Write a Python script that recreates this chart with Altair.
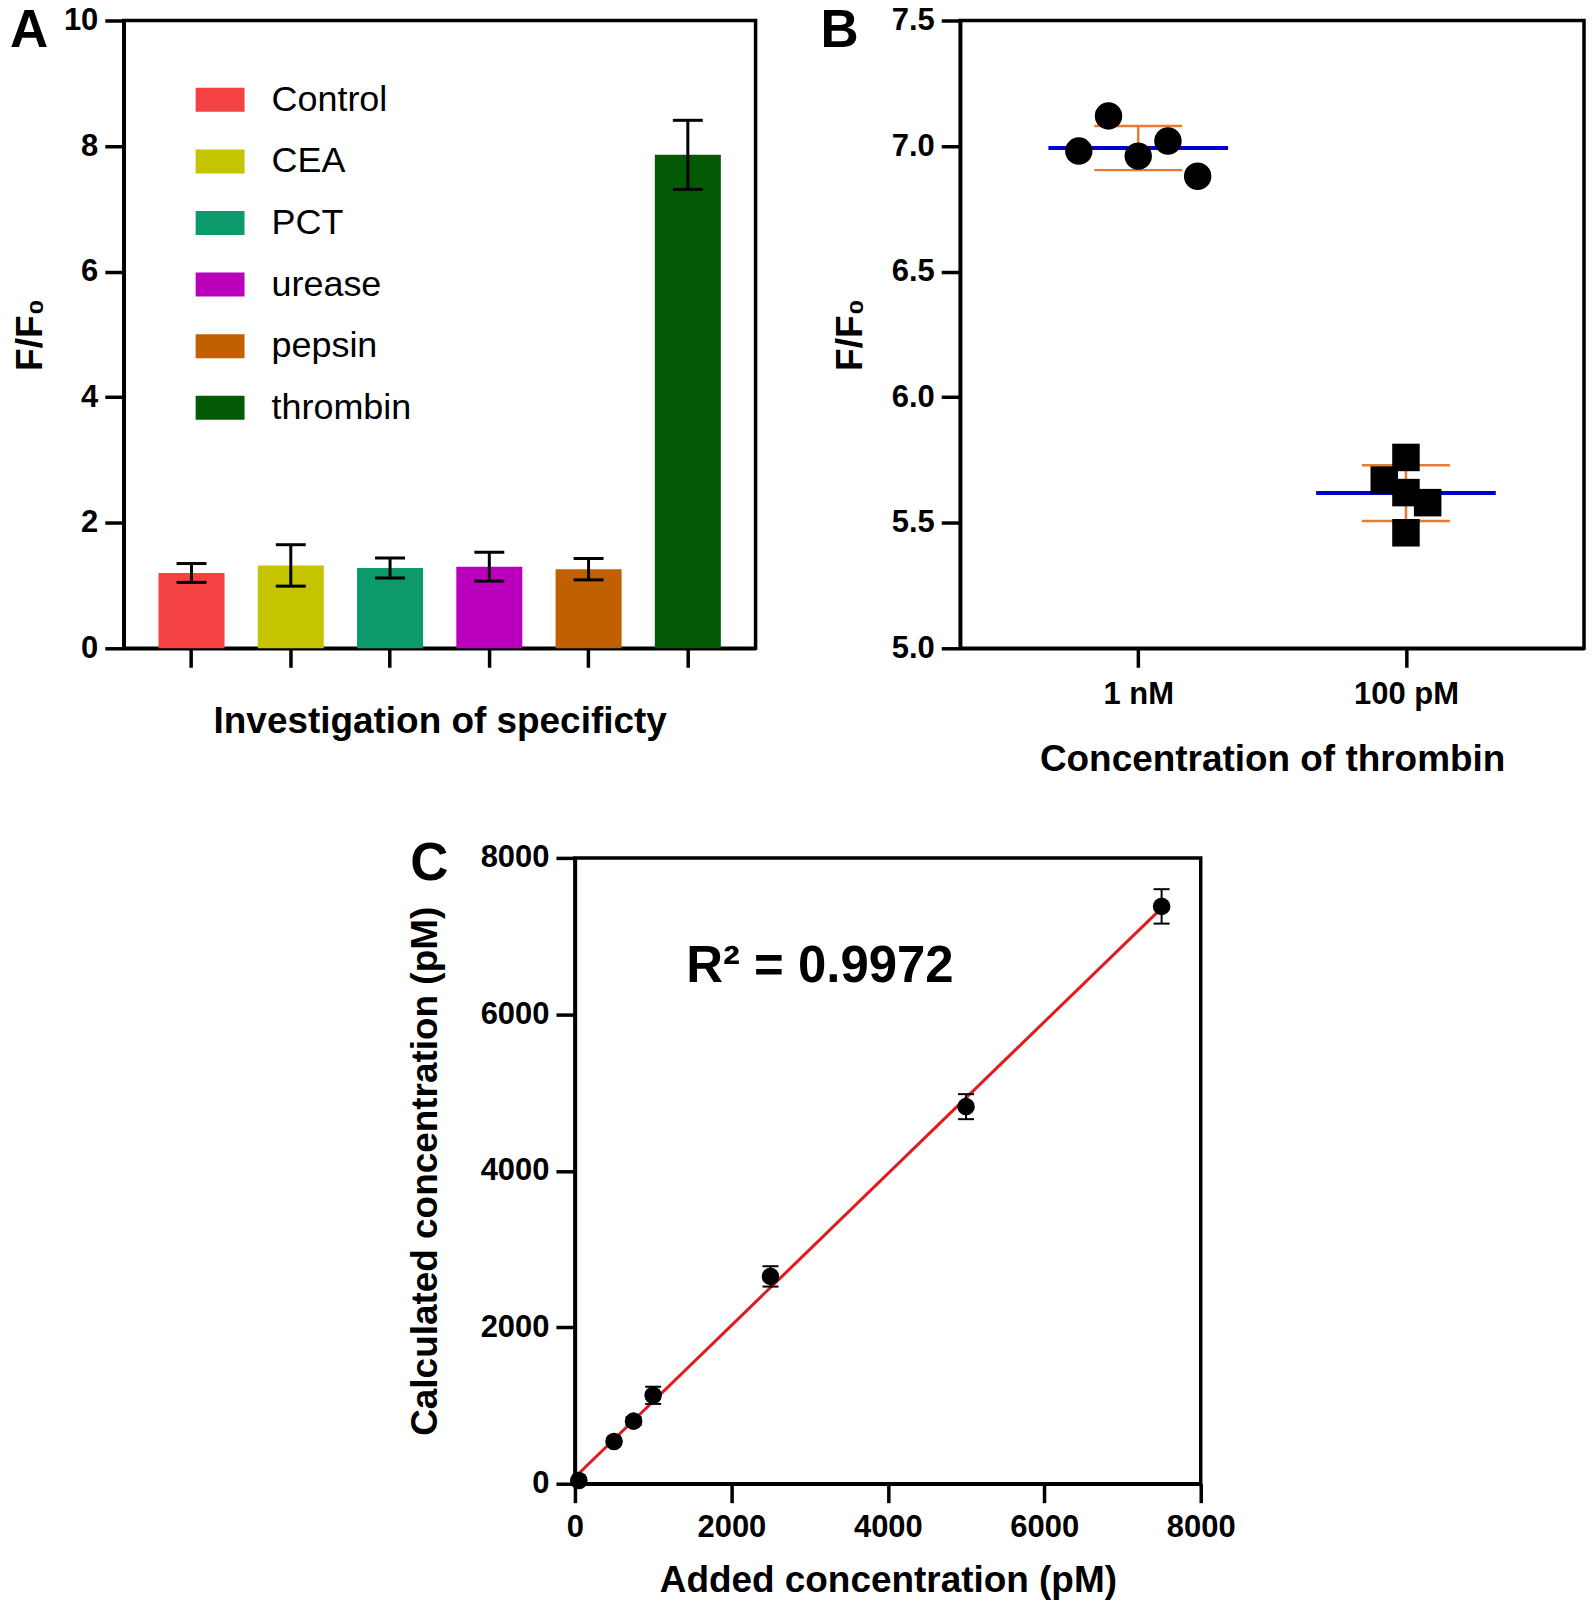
import altair as alt
import pandas as pd

FONT = "Liberation Sans"

# ---------------- Panel A data ----------------
specificity_labels = ["Control", "CEA", "PCT", "urease", "pepsin", "thrombin"]
specificity_means = [1.20, 1.32, 1.28, 1.30, 1.26, 7.86]
specificity_sd = [0.15, 0.33, 0.16, 0.23, 0.17, 0.55]
specificity_colors = ["#F44141", "#C4C400", "#0C9A6C", "#BB00BB", "#C06000", "#045A04"]
a_ticks = [0, 2, 4, 6, 8, 10]

# ---------------- Panel B data ----------------
conc_labels = ["1 nM", "100 pM"]
vals_1nM = [6.98, 7.12, 6.96, 7.02, 6.88]
jitter_1nM = [-0.222, -0.111, 0.0, 0.111, 0.222]
vals_100pM = [5.67, 5.76, 5.62, 5.58, 5.46]
jitter_100pM = [-0.081, 0.0, 0.0, 0.081, 0.0]
b_ticks = [5.0, 5.5, 6.0, 6.5, 7.0, 7.5]

# ---------------- Panel C data ----------------
added_conc = [50, 500, 750, 1000, 2500, 5000, 7500]
calc_conc = [40, 540, 800, 1130, 2650, 4820, 7380]
calc_err = [20, 40, 50, 110, 130, 160, 220]
c_ticks = [0, 2000, 4000, 6000, 8000]
r2_text = "R\u00b2 = 0.9972"
r2_pos = (1423, 6410)


def letter(t, x, y):
    return alt.Chart(pd.DataFrame({"t": [t]})).mark_text(
        font=FONT, fontSize=53, fontWeight="bold", align="left", baseline="alphabetic", color="black"
    ).encode(text="t:N", x=alt.value(x), y=alt.value(y))


# ================= Panel A =================
df_a = pd.DataFrame({"cat": specificity_labels, "mean": specificity_means, "sd": specificity_sd})
xa = alt.X("cat:N", sort=specificity_labels,
           scale=alt.Scale(paddingInner=0.335, paddingOuter=0.35),
           axis=alt.Axis(labels=False, title="Investigation of specificty", titlePadding=35))
ya_scale = alt.Scale(domain=[0, 10], nice=False)
ya_axis = alt.Axis(values=a_ticks, format="d", title="F/F\u2080", titlePadding=14)

base_a = alt.Chart(df_a)
bars = base_a.mark_bar().encode(
    x=xa,
    y=alt.Y("mean:Q", scale=ya_scale, axis=ya_axis),
    color=alt.Color("cat:N", sort=specificity_labels,
                    scale=alt.Scale(domain=specificity_labels, range=specificity_colors),
                    legend=alt.Legend(title=None, orient="none", legendX=72, legendY=55,
                                      symbolType="M-1,-0.49H1V0.49H-1Z", symbolSize=2401,
                                      symbolStrokeWidth=0, symbolOpacity=1,
                                      labelFont=FONT, labelFontSize=36, labelFontWeight="normal",
                                      labelColor="black", labelOffset=27, rowPadding=18.7,
                                      padding=0)),
)
a_err = base_a.transform_calculate(lo="datum.mean - datum.sd", hi="datum.mean + datum.sd")
a_rule = a_err.mark_rule(color="black", strokeWidth=3).encode(
    x=alt.X("cat:N", sort=specificity_labels), y="lo:Q", y2="hi:Q")
a_caps = a_err.transform_fold(["lo", "hi"], as_=["k", "v"]).mark_tick(
    color="black", orient="horizontal", size=30, thickness=3, opacity=1).encode(
    x=alt.X("cat:N", sort=specificity_labels), y="v:Q")

panel_a = alt.layer(bars, a_rule, a_caps, letter("A", -114, 27)).properties(width=633, height=629)

# ================= Panel B =================
df_b = pd.DataFrame({
    "g": [0] * len(vals_1nM) + [1] * len(vals_100pM),
    "val": vals_1nM + vals_100pM,
    "jit": jitter_1nM + jitter_100pM,
})
df_b["xpos"] = df_b["g"] + df_b["jit"]

label_expr = " : ".join([f"datum.value == {i} ? '{l}'" for i, l in enumerate(conc_labels[:-1])]) + f" : '{conc_labels[-1]}'"
xb_scale = alt.Scale(domain=[-0.665, 1.665], nice=False, zero=False)
xb_axis = alt.Axis(values=[0, 1], labelExpr=label_expr, title="Concentration of thrombin",
                   labelPadding=12, titlePadding=32)
yb_scale = alt.Scale(domain=[5.0, 7.5], nice=False, zero=False)
yb_axis = alt.Axis(values=b_ticks, format=".1f", title="F/F\u2080", titlePadding=22)

base_b = alt.Chart(df_b)
b_stats = base_b.transform_aggregate(m="mean(val)", s="stdev(val)", groupby=["g"]).transform_calculate(
    lo="datum.m - datum.s", hi="datum.m + datum.s")
b_mean = b_stats.mark_tick(color="#0000CC", orient="horizontal", size=180, thickness=4, opacity=1).encode(
    x=alt.X("g:Q", scale=xb_scale, axis=xb_axis),
    y=alt.Y("m:Q", scale=yb_scale, axis=yb_axis))
b_rule = b_stats.mark_rule(color="#E97A32", strokeWidth=2.5).encode(x="g:Q", y="lo:Q", y2="hi:Q")
b_caps = b_stats.transform_fold(["lo", "hi"], as_=["k", "v"]).mark_tick(
    color="#E97A32", orient="horizontal", size=88, thickness=2.5, opacity=1).encode(x="g:Q", y="v:Q")
b_circ = base_b.transform_filter("datum.g == 0").mark_circle(size=755, color="black", opacity=1).encode(
    x="xpos:Q", y="val:Q")
b_sq = base_b.transform_filter("datum.g == 1").mark_square(size=760, color="black", opacity=1).encode(
    x="xpos:Q", y="val:Q")

panel_b = alt.layer(b_mean, b_rule, b_caps, b_circ, b_sq, letter("B", -140, 27)).properties(width=625, height=629)

# ================= Panel C =================
df_c = pd.DataFrame({"added": added_conc, "calc": calc_conc, "err": calc_err})
xc_scale = alt.Scale(domain=[0, 8000], nice=False)
yc_scale = alt.Scale(domain=[0, 8000], nice=False)
xc_axis = alt.Axis(values=c_ticks, format="d", title="Added concentration (pM)", labelPadding=10, titlePadding=20)
yc_axis = alt.Axis(values=c_ticks, format="d", title="Calculated concentration (pM)", titlePadding=36)

base_c = alt.Chart(df_c)
c_line = base_c.transform_regression("added", "calc", extent=[0, 7500]).mark_line(
    color="#E31A1C", strokeWidth=3).encode(
    x=alt.X("added:Q", scale=xc_scale, axis=xc_axis),
    y=alt.Y("calc:Q", scale=yc_scale, axis=yc_axis))
c_errd = base_c.transform_calculate(lo="datum.calc - datum.err", hi="datum.calc + datum.err")
c_rule = c_errd.mark_rule(color="black", strokeWidth=2).encode(x="added:Q", y="lo:Q", y2="hi:Q")
c_caps = c_errd.transform_fold(["lo", "hi"], as_=["k", "v"]).mark_tick(
    color="black", orient="horizontal", size=16, thickness=2, opacity=1).encode(x="added:Q", y="v:Q")
c_pts = base_c.mark_circle(size=310, color="black", opacity=1).encode(x="added:Q", y="calc:Q")
c_r2 = alt.Chart(pd.DataFrame({"x": [r2_pos[0]], "y": [r2_pos[1]], "t": [r2_text]})).mark_text(
    font=FONT, fontSize=51, fontWeight="bold", align="left", baseline="alphabetic", color="black"
).encode(x="x:Q", y="y:Q", text="t:N")

panel_c = alt.layer(c_line, c_rule, c_caps, c_pts, c_r2, letter("C", -165, 22)).properties(width=627, height=627)

spacer = alt.Chart(pd.DataFrame({"s": [0]})).mark_point(opacity=0).encode(
    x=alt.value(0), y=alt.value(0)).properties(width=279, height=10,
                                               view=alt.ViewBackground(stroke="transparent"))

chart = alt.vconcat(
    alt.hconcat(panel_a, panel_b, spacing=61),
    alt.hconcat(spacer, panel_c, spacing=0),
    spacing=57,
).properties(padding={"top": -7, "bottom": 0, "left": 0, "right": 0}, background="white").configure_axis(
    labelFont=FONT, labelFontSize=31, labelFontWeight="bold", labelColor="black",
    titleFont=FONT, titleFontSize=37, titleFontWeight="bold", titleColor="black",
    domainColor="black", domainWidth=3.5, tickColor="black", tickWidth=3.5, tickSize=19,
    grid=False, labelPadding=7, labelFlush=False, labelOverlap=False,
).configure_view(stroke="black", strokeWidth=3.5)

chart.save("out.html", embed_options={"renderer": "svg", "actions": False})
